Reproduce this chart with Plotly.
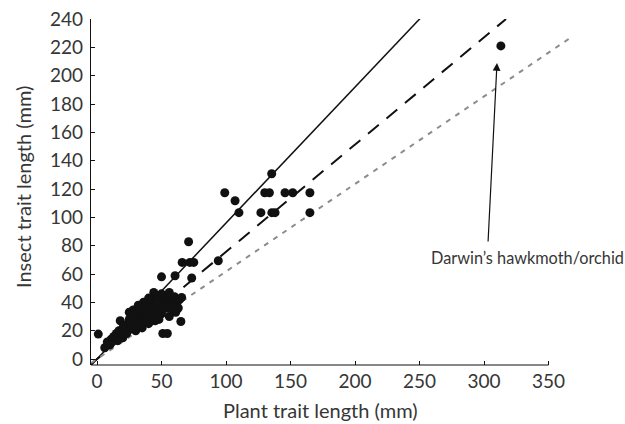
import plotly.graph_objects as go

# ---- data ----
plant_mm = [
    1, 6, 8, 11, 10, 13, 15, 17, 18, 20, 22, 24, 25, 26, 27, 28, 29, 30, 31, 32,
    33, 34, 35, 36, 37, 38, 39, 40, 41, 42, 43, 44, 45, 45, 46, 47, 48, 49, 50, 50,
    51, 52, 53, 54, 55, 56, 57, 58, 59, 60, 61, 62, 63, 64, 65, 35, 40, 30, 45, 20,
    16, 23, 28, 38, 42, 48, 51, 54.5, 50, 60.5, 73.4, 66, 72, 75, 71, 94, 65.6, 44,
    36, 27, 33, 47, 55, 25, 32, 40, 56, 62,
    99, 107, 110, 127, 130, 133.6, 135.4, 135.5, 138, 145.7, 151.7, 165, 165,
    313,
]
insect_mm = [
    17.6, 8, 12, 14, 10, 16, 18, 20, 27, 22, 24, 20, 28, 25, 22, 34.6, 30, 26, 28, 33,
    24, 30, 36, 27, 32, 38, 29, 35, 40, 33, 37, 42, 45, 30, 38, 44, 35, 40, 46, 32,
    42, 38, 44, 36, 40, 30, 42, 35, 38, 44, 33, 40, 36, 42, 26.5, 22, 25, 20, 27, 15,
    13, 18, 22, 27, 28, 28, 18, 18, 58, 58.8, 57.2, 68.2, 68.2, 68.2, 82.8, 69.4, 43.5, 47,
    40, 31, 36, 41, 45, 33, 38, 43, 47, 36,
    117.4, 111.7, 103.3, 103.3, 117.4, 117.4, 130.8, 103.3, 103.3, 117.4, 117.4, 117.4, 103.3,
    221,
]

line_slopes = [0.96, 0.757, 0.618]
line_x_start = -4.5
line_x_end = [250.5, 317, 367]
line_colors = ["#111111", "#111111", "#8c8c8c"]
line_dashes = ["solid", "14px,10px", "5px,6px"]
line_widths = [1.5, 2, 2]

x_ticks = [0, 50, 100, 150, 200, 250, 300, 350]
y_ticks = list(range(0, 241, 20))

x_title = "Plant trait length (mm)"
y_title = "Insect trait length (mm)"
annot_text = "Darwin’s hawkmoth/orchid"

FONT = "Lato"
TXT = "#363636"
W, H = 625, 424
ML, MR, MT, MB = 91, 48, 19, 59

fig = go.Figure()

for s, xe, c, d, w in zip(line_slopes, line_x_end, line_colors, line_dashes, line_widths):
    fig.add_trace(go.Scatter(
        x=[line_x_start, xe], y=[s * line_x_start, s * xe],
        mode="lines", line=dict(color=c, dash=d, width=w),
        hoverinfo="skip", showlegend=False,
    ))

fig.add_trace(go.Scatter(
    x=plant_mm, y=insect_mm, mode="markers",
    marker=dict(color="#111111", size=9, line=dict(width=0)),
    showlegend=False,
))

# x axis line drawn only up to 350
fig.add_shape(type="line", xref="x", yref="paper", x0=-4.65, x1=350, y0=0, y1=0,
              line=dict(color="#111111", width=1.2))

# arrow to Darwin's point
fig.add_annotation(x=310, y=209, xref="x", yref="y", ax=-9, ay=180,
                   axref="pixel", ayref="pixel", text="", showarrow=True,
                   arrowhead=2, arrowsize=1.3, arrowwidth=1.2, arrowcolor="#111111")

pw, ph = W - ML - MR, H - MT - MB
def px2paper(px, py):
    return (px - ML) / pw, (H - MB - py) / ph

ax_, ay_ = px2paper(527.5, 257)
fig.add_annotation(x=ax_, y=ay_, xref="paper", yref="paper", text=annot_text,
                   showarrow=False, xanchor="center", yanchor="middle",
                   font=dict(family=FONT, size=16.3, color=TXT))
tx, ty = px2paper(320, 410)
fig.add_annotation(x=tx, y=ty, xref="paper", yref="paper", text=x_title,
                   showarrow=False, xanchor="center", yanchor="middle",
                   font=dict(family=FONT, size=20, color=TXT))
tx, ty = px2paper(23, 187)
fig.add_annotation(x=tx, y=ty, xref="paper", yref="paper", text=y_title,
                   showarrow=False, xanchor="center", yanchor="middle", textangle=-90,
                   font=dict(family=FONT, size=20, color=TXT))

fig.update_layout(
    width=W, height=H,
    margin=dict(l=ML, r=MR, t=MT, b=MB),
    paper_bgcolor="white", plot_bgcolor="white",
    font=dict(family=FONT, size=19, color=TXT),
    xaxis=dict(
        range=[-4.65, 372], tickvals=x_ticks, ticks="inside", ticklen=4,
        tickcolor="#111111", showline=False, showgrid=False, zeroline=False,
        automargin=False, tickfont=dict(size=19, color=TXT), ticklabelstandoff=3,
    ),
    yaxis=dict(
        range=[-4.2, 240], tickvals=y_ticks, ticks="inside", ticklen=4,
        tickcolor="#111111", showline=True, linecolor="#111111", linewidth=1.2,
        showgrid=False, zeroline=False,
        automargin=False, tickfont=dict(size=19, color=TXT), ticklabelstandoff=3,
    ),
)

fig.write_html("out.html", config={"displayModeBar": False},
               post_script="document.body.style.margin='0px';")
